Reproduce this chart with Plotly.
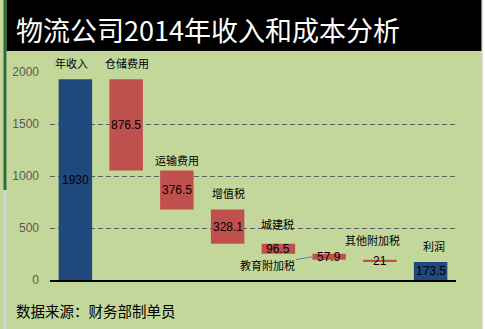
import plotly.graph_objects as go

# ---------------- data ----------------
categories = ["年收入", "仓储费用", "运输费用", "增值税", "城建税", "教育附加税", "其他附加税", "利润"]
values = [1930, 876.5, 376.5, 328.1, 96.5, 57.9, 21, 173.5]
kinds = ["total", "cost", "cost", "cost", "cost", "cost", "cost", "total"]
value_labels = ["1930", "876.5", "376.5", "328.1", "96.5", "57.9", "21", "173.5"]
y_ticks = [0, 500, 1000, 1500, 2000]
title_text = "物流公司2014年收入和成本分析"
source_text = "数据来源：财务部制单员"

# ---------------- styling / layout helpers ----------------
W, H = 485, 329
L, R, T, B = 46, 456, 72, 280          # plot area in pixels
colors = {"total": "#1F497D", "cost": "#C0504D"}
bg_green = "#C4D79B"
cjk = "Noto Sans CJK SC"
num_font = "Liberation Sans"
# category label pixel offsets relative to the bar top centre (dx, dy up)
label_shift = [(-4, 16), (1, 16), (0, 10), (1, 17), (-1, 20), None, (-7, 20), (3, 16)]


def px_x(p):
    return (p - L) / (R - L)


def px_y(p):
    return (B - p) / (B - T)


# waterfall bases
bases = []
running = 0.0
for v, k in zip(values, kinds):
    if k == "total":
        bases.append(0)
        running = v
    else:
        running -= v
        bases.append(running)

fig = go.Figure()
fig.add_trace(go.Bar(
    x=categories, y=values, base=bases,
    marker=dict(color=[colors[k] for k in kinds], line=dict(width=0)),
    width=0.66, hoverinfo="skip", showlegend=False,
))

annotations = []
for i, (c, v, b, lab) in enumerate(zip(categories, values, bases, value_labels)):
    # value label in the middle of the bar
    annotations.append(dict(
        x=c, y=b + v / 2, text=lab, showarrow=False, xanchor="center", yanchor="middle",
        font=dict(family=num_font, size=12, color="#000000"),
    ))
    sh = label_shift[i]
    if sh is not None:
        annotations.append(dict(
            x=c, y=b + v, text=c, showarrow=False, xanchor="center", yanchor="middle",
            xshift=sh[0], yshift=sh[1],
            font=dict(family=cjk, size=11, color="#000000"),
        ))
    else:
        annotations.append(dict(
            x=c, y=b + v / 2, text=c, showarrow=True, arrowhead=0, arrowwidth=1,
            arrowcolor="#4F81BD", ax=-45, ay=8, xshift=-17,
            font=dict(family=cjk, size=11, color="#000000"),
        ))

# title and source
annotations.append(dict(
    xref="paper", yref="paper", x=px_x(10), y=px_y(29), xanchor="left", yanchor="middle",
    text=title_text, showarrow=False, font=dict(family=cjk, size=27, color="#FFFFFF"),
))
annotations.append(dict(
    xref="paper", yref="paper", x=px_x(10), y=px_y(310), xanchor="left", yanchor="middle",
    text=source_text, showarrow=False, font=dict(family=cjk, size=14.5, color="#000000"),
))

shapes = [
    # black title band
    dict(type="rect", xref="paper", yref="paper", layer="below",
         x0=px_x(2), x1=px_x(482), y0=px_y(51), y1=px_y(-2),
         fillcolor="#000000", line=dict(width=0)),
    # right border (light gray line + white)
    dict(type="rect", xref="paper", yref="paper", layer="below",
         x0=px_x(482), x1=px_x(W + 2), y0=px_y(H + 2), y1=px_y(-2),
         fillcolor="#FFFFFF", line=dict(width=0)),
    dict(type="rect", xref="paper", yref="paper", layer="below",
         x0=px_x(482), x1=px_x(483), y0=px_y(H + 2), y1=px_y(-2),
         fillcolor="#D0D0D0", line=dict(width=0)),
    # left border: dark green at the top, gray below
    dict(type="rect", xref="paper", yref="paper", layer="below",
         x0=px_x(-1), x1=px_x(2), y0=px_y(190), y1=px_y(-2),
         fillcolor="#2E6B3E", line=dict(width=0)),
    dict(type="rect", xref="paper", yref="paper", layer="below",
         x0=px_x(-1), x1=px_x(2), y0=px_y(H + 2), y1=px_y(190),
         fillcolor="#D4D4D4", line=dict(width=0)),
]

fig.update_layout(
    width=W, height=H,
    margin=dict(l=L, r=W - R, t=T, b=H - B, pad=0),
    paper_bgcolor=bg_green, plot_bgcolor=bg_green,
    annotations=annotations, shapes=shapes,
    bargap=0.34,
    xaxis=dict(
        type="category", range=[-0.5, len(categories) - 0.5],
        showticklabels=False, showgrid=False, zeroline=False,
        showline=True, linecolor="#000000", linewidth=2, ticks="",
        fixedrange=True,
    ),
    yaxis=dict(
        range=[0, 2000], tickvals=y_ticks, ticktext=[str(t) for t in y_ticks],
        showgrid=True, gridcolor="#5F5F5F", gridwidth=1, griddash="5px,3px",
        zeroline=False, showline=False, ticks="", ticklabelstandoff=10,
        tickfont=dict(family=num_font, size=12, color="#595959"),
        fixedrange=True,
    ),
)

fig.write_html("out.html")
